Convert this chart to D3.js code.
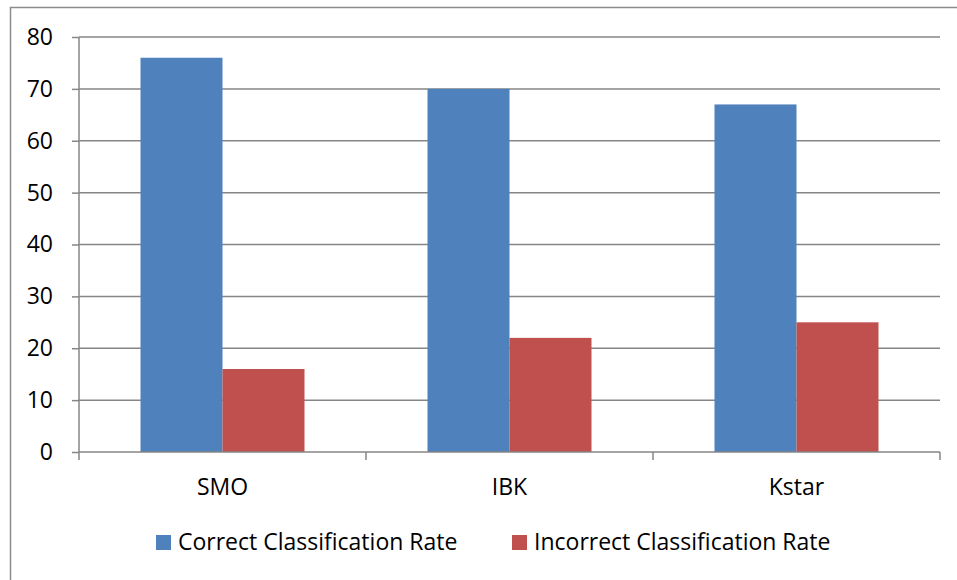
<!DOCTYPE html>
<html><head><meta charset="utf-8">
<script src="https://cdn.jsdelivr.net/npm/d3@7/dist/d3.min.js"></script>
<style>body{margin:0;background:#fff}svg{display:block}text{font-family:"Open Sans",sans-serif;fill:#000}</style>
</head><body>
<script>
const categories = ["SMO", "IBK", "Kstar"];
const seriesNames = ["Correct Classification Rate", "Incorrect Classification Rate"];
const correctRate = [76, 70, 67];
const incorrectRate = [16, 22, 25];
const yTicks = [0, 10, 20, 30, 40, 50, 60, 70, 80];
const colors = ["#4F81BD", "#C0504D"];

const W = 957, H = 580;
const FS = 23;
const svg = d3.select("body").append("svg").attr("width", W).attr("height", H);
// outer chart border
svg.append("rect").attr("x", 10.5).attr("y", 7.5).attr("width", 960).attr("height", 600)
  .attr("fill", "none").attr("stroke", "#8c8c8c").attr("stroke-width", 1.5);

const L = 79, R = 940, T = 37, B = 452;
const x0 = d3.scaleBand().domain(categories).range([L, R]).padding(0);
const x1 = d3.scaleBand().domain(seriesNames).range([0, x0.bandwidth()]).paddingInner(0).paddingOuter(0.75);
const y = d3.scaleLinear().domain([0, 80]).range([B, T]);
const axisColor = "#868686";

// gridlines
svg.append("g").selectAll("line").data(yTicks.filter(d => d > 0)).join("line")
  .attr("x1", L).attr("x2", R).attr("y1", d => y(d)).attr("y2", d => y(d))
  .attr("stroke", axisColor).attr("stroke-width", 1.5);

// bars
const data = categories.map((c, i) => ({c, vals: [correctRate[i], incorrectRate[i]]}));
const g = svg.append("g").selectAll("g").data(data).join("g")
  .attr("transform", d => `translate(${x0(d.c)},0)`);
g.selectAll("rect").data(d => d.vals.map((v, j) => ({v, s: seriesNames[j], j}))).join("rect")
  .attr("x", d => x1(d.s)).attr("width", x1.bandwidth())
  .attr("y", d => y(d.v)).attr("height", d => y(0) - y(d.v))
  .attr("fill", d => colors[d.j]);

// y axis
const yAxis = svg.append("g").attr("transform", `translate(${L},0)`)
  .call(d3.axisLeft(y).tickValues(yTicks).tickSize(7).tickPadding(19).tickFormat(d3.format("d")));
yAxis.select(".domain").attr("stroke", axisColor).attr("stroke-width", 1.5).attr("d", `M0,${T}V${B}`);
yAxis.selectAll(".tick line").attr("stroke", axisColor).attr("stroke-width", 1.5);
yAxis.selectAll(".tick text").attr("font-size", FS).attr("font-family", "Open Sans").attr("fill", "#000");

// x axis
const xb = d3.scaleLinear().domain([0, categories.length]).range([L, R]);
const xAxis = svg.append("g").attr("transform", `translate(0,${B})`);
xAxis.append("line").attr("x1", L).attr("x2", R).attr("stroke", axisColor).attr("stroke-width", 1.5);
xAxis.selectAll(".tk").data(d3.range(categories.length + 1)).join("line").attr("class", "tk")
  .attr("x1", d => xb(d)).attr("x2", d => xb(d)).attr("y1", 0).attr("y2", 8)
  .attr("stroke", axisColor).attr("stroke-width", 1.5);
xAxis.selectAll("text").data(categories).join("text")
  .attr("x", d => x0(d) + x0.bandwidth() / 2).attr("y", 43)
  .attr("text-anchor", "middle").attr("font-size", FS).text(d => d);

// legend
const legX = [156, 512];
const lg = svg.append("g").selectAll("g").data(seriesNames).join("g")
  .attr("transform", (d, i) => `translate(${legX[i]},535)`);
lg.append("rect").attr("width", 15).attr("height", 15).attr("fill", (d, i) => colors[i]);
lg.append("text").attr("x", 22).attr("y", 15).attr("font-size", FS).text(d => d);
</script>
</body></html>
